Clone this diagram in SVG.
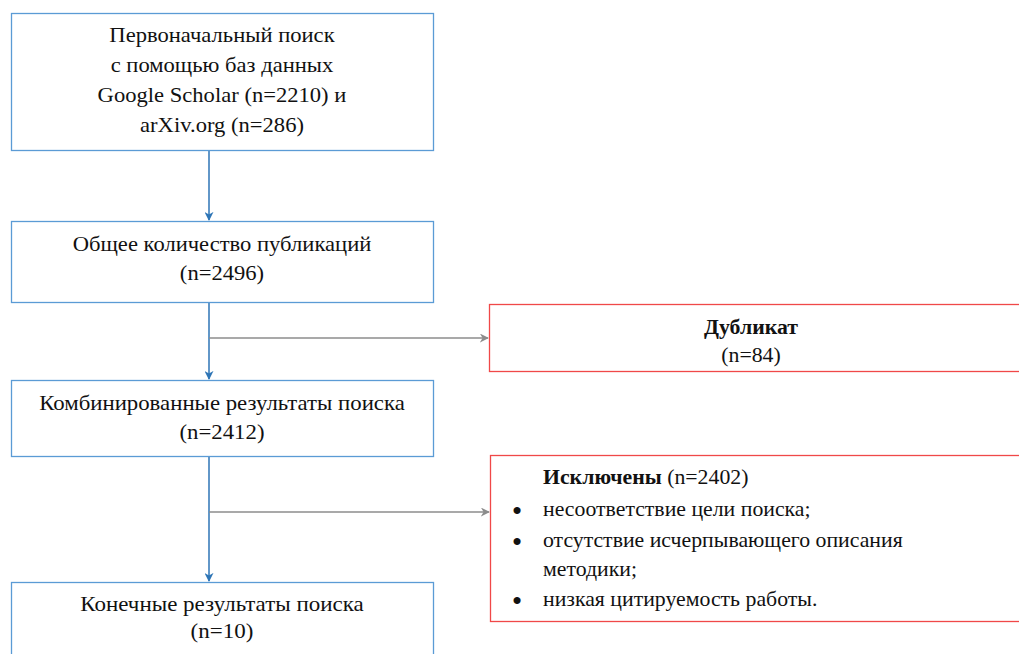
<svg xmlns="http://www.w3.org/2000/svg" width="1019" height="654" viewBox="0 0 1019 654">
<style>
.t{font-family:'Liberation Serif','Times New Roman','DejaVu Serif',serif;font-size:20px;fill:#111}
.c{text-anchor:middle}
.b{font-weight:bold}
.u{font-family:'Liberation Serif',serif;font-size:26px;font-weight:bold;fill:#111;text-anchor:middle}
.nb{fill:#fff;stroke:#5b9bd5;stroke-width:1.3}
.rb{fill:#fff;stroke:#f04848;stroke-width:1.3}
.bl{stroke:#2e75b6;stroke-width:1.5;fill:none}
.gl{stroke:#8c8c8c;stroke-width:1.5;fill:none}
</style>
<defs>
<marker id="ab" viewBox="0 0 10 10" refX="9" refY="5" markerWidth="9" markerHeight="9" markerUnits="userSpaceOnUse" orient="auto"><path d="M0,0 L10,5 L0,10 L3,5 Z" fill="#2e75b6"/></marker>
<marker id="ag" viewBox="0 0 10 10" refX="9" refY="5" markerWidth="9" markerHeight="9" markerUnits="userSpaceOnUse" orient="auto"><path d="M0,0 L10,5 L0,10 L3,5 Z" fill="#8c8c8c"/></marker>
</defs>
<rect width="1019" height="654" fill="#fff"/>
<g id="connectors">
<line class="bl" x1="209" y1="151" x2="209" y2="220" marker-end="url(#ab)"/>
<line class="bl" x1="209" y1="303" x2="209" y2="379" marker-end="url(#ab)"/>
<line class="bl" x1="209" y1="457" x2="209" y2="581" marker-end="url(#ab)"/>
<line class="gl" x1="209" y1="338" x2="488" y2="338" marker-end="url(#ag)"/>
<line class="gl" x1="209" y1="512" x2="489" y2="512" marker-end="url(#ag)"/>
</g>
<g id="n1">
<rect class="nb" x="11.5" y="13.5" width="422" height="137"/>
<g transform="translate(222,0) scale(1.13,1) translate(-222,0)">
<text class="t c" x="222" y="42.5">Первоначальный поиск</text>
<text class="t c" x="222" y="72.5">с помощью баз данных</text>
<text class="t c" x="222" y="102.5">Google Scholar (n=2210) и</text>
<text class="t c" x="222" y="132.5">arXiv.org (n=286)</text>
</g>
</g>
<g id="n2">
<rect class="nb" x="11.5" y="221.5" width="422" height="81"/>
<g transform="translate(222,0) scale(1.13,1) translate(-222,0)">
<text class="t c" x="222" y="251">Общее количество публикаций</text>
<text class="t c" x="222" y="280">(n=2496)</text>
</g>
</g>
<g id="n3">
<rect class="nb" x="11.5" y="380.5" width="422" height="76"/>
<g transform="translate(222,0) scale(1.14,1) translate(-222,0)">
<text class="t c" x="222" y="410">Комбинированные результаты поиска</text>
<text class="t c" x="222" y="439">(n=2412)</text>
</g>
</g>
<g id="n4">
<rect class="nb" x="11.5" y="582.5" width="422" height="80"/>
<g transform="translate(222,0) scale(1.15,1) translate(-222,0)">
<text class="t c" x="222" y="611">Конечные результаты поиска</text>
<text class="t c" x="222" y="638">(n=10)</text>
</g>
</g>
<g id="dup">
<rect class="rb" x="489.5" y="304.5" width="540" height="67"/>
<g transform="translate(751,0) scale(1.09,1) translate(-751,0)">
<text class="t c b" x="751" y="334">Дубликат</text>
<text class="t c" x="751" y="362">(n=84)</text>
</g>
</g>
<g id="excl">
<rect class="rb" x="490.5" y="455.5" width="540" height="166"/>
<text class="u" x="517" y="519">•</text>
<text class="u" x="517" y="550">•</text>
<text class="u" x="517" y="609">•</text>
<g transform="translate(543,0) scale(1.09,1) translate(-543,0)">
<text class="t" x="543" y="484"><tspan class="b">Исключены</tspan> (n=2402)</text>
<text class="t" x="543" y="516">несоответствие цели поиска;</text>
<text class="t" x="543" y="547">отсутствие исчерпывающего описания</text>
<text class="t" x="543" y="576">методики;</text>
<text class="t" x="543" y="606">низкая цитируемость работы.</text>
</g>
</g>
</svg>
